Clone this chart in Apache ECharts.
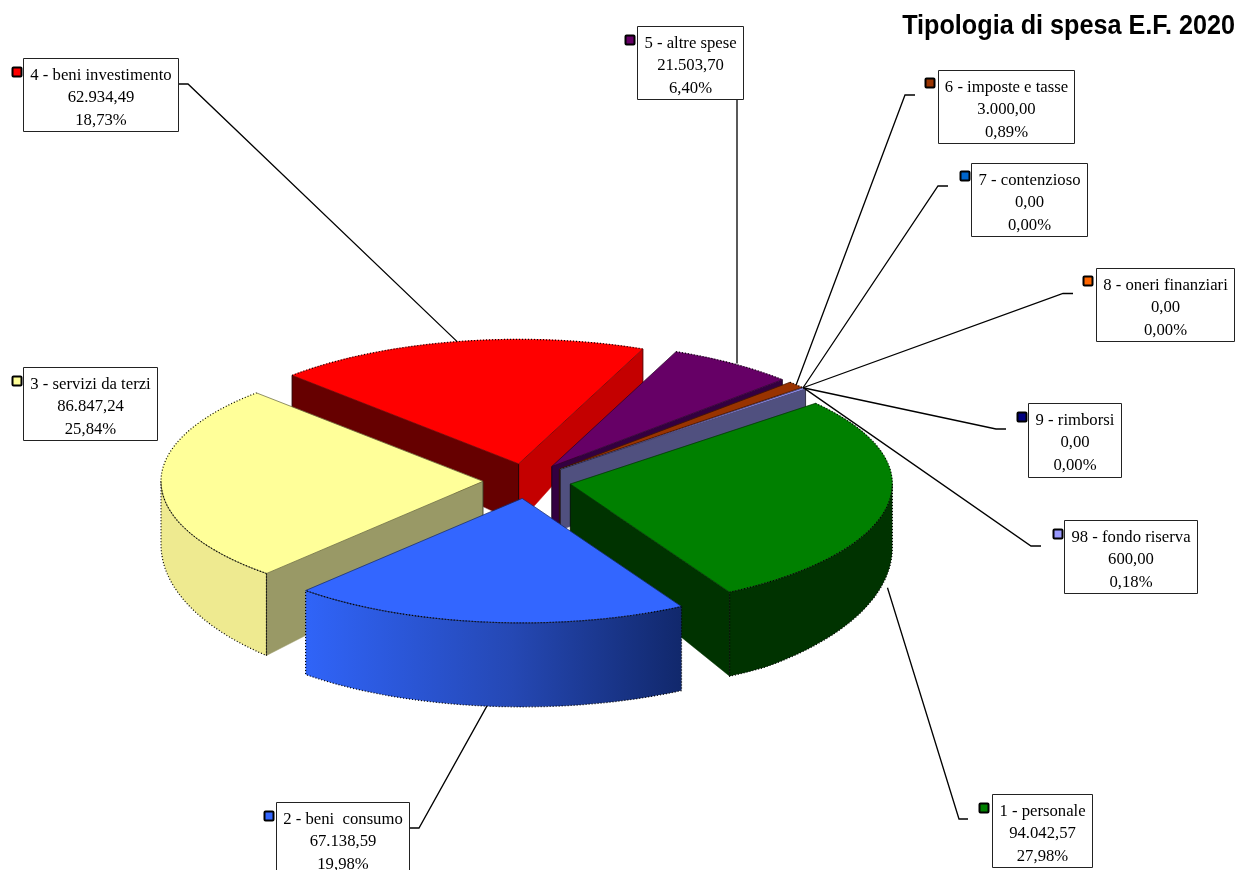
<!DOCTYPE html>
<html>
<head>
<meta charset="utf-8">
<style>html,body{margin:0;padding:0;background:#fff;overflow:hidden}#c{width:1241px;height:870px}</style>
<script src="https://cdn.jsdelivr.net/npm/echarts@6/dist/echarts.min.js"></script>
</head>
<body>
<div id="c"></div>
<script>
const categories = ['1 - personale','2 - beni  consumo','3 - servizi da terzi','4 - beni investimento','5 - altre spese','6 - imposte e tasse','7 - contenzioso','8 - oneri finanziari','9 - rimborsi','98 - fondo riserva'];
const values = [94042.57,67138.59,86847.24,62934.49,21503.70,3000.00,0,0,0,600.00];
const titleText = 'Tipologia di spesa E.F. 2020';

// Slice colours: top, start wall, end wall, outer wall, legend key
const topColors   = ['#008000','#3366ff','#ffff99','#ff0000','#660066','#993300','#0066cc','#ff6600','#000080','#9999ff'];
const startWalls  = ['#003300','#1a3380','#999966','#660000','#330033','#4d1a00','#003366','#803300','#000040','#50507f'];
const endWalls    = ['#003300','#1a3380','#999966','#c40000','#330040','#6b2400','#003366','#803300','#000040','#50507f'];
const outerWalls  = ['#003300',null,'#eeea90','#800000','#330033','#4d1a00','#003366','#803300','#000040','#50507f'];

// Pie geometry (layout only)
const PIE = {cx:527, cy:481, rx:322, ry:124.5, ex:44, ey:17.5, startDeg:49.6};
const depthAt = y => Math.min(84, 36 + (y - 349) * 0.205);

// Label boxes: x,y,w,h, key x,y, leader elbow points, anchor tweak (layout only)
const labelLayouts = [
  {x:992, y:794, w:100, h:73, kx:979, ky:803, elbow:[[968,819],[959,819]], dy:14, front:true},
  {x:276, y:802, w:133, h:73, kx:264, ky:811, elbow:[[409,828],[419,828]], dy:0, front:true},
  {x:23,  y:367, w:134, h:73, kx:12,  ky:376, elbow:null},
  {x:23,  y:58,  w:155, h:73, kx:12,  ky:67,  elbow:[[178,84],[188,84]]},
  {x:637, y:26,  w:106, h:73, kx:625, ky:35,  elbow:[[737,99]], vertical:true},
  {x:938, y:70,  w:136, h:73, kx:925, ky:78,  elbow:[[915,95],[905,95]]},
  {x:971, y:163, w:116, h:73, kx:960, ky:171, elbow:[[948,186],[938,186]]},
  {x:1096,y:268, w:138, h:73, kx:1083,ky:276, elbow:[[1073,293.5],[1063,293.5]]},
  {x:1028,y:403, w:93,  h:74, kx:1017,ky:412, elbow:[[1006,429],[996,429]]},
  {x:1064,y:520, w:133, h:73, kx:1053,ky:529, elbow:[[1041,546],[1031,546]]}
];

const total = values.reduce((a,b)=>a+b,0);
const rad = d => d*Math.PI/180;
const fmt = v => {
  const [i,d] = v.toFixed(2).split('.');
  return i.replace(/\B(?=(\d{3})+(?!\d))/g,'.') + ',' + d;
};

// Angular extent of each slice from the values
const slices = (function(){
  let a = PIE.startDeg; const out = [];
  values.forEach(v => {
    const s = v/total*360;
    const m = rad(a + s/2);
    out.push({a, b:a+s, mid:a+s/2,
      ox: PIE.cx + PIE.ex*Math.sin(m),
      oy: PIE.cy - PIE.ey*Math.cos(m)});
    a += s;
  });
  return out;
})();
const rimPoint = (s,deg) => [s.ox + PIE.rx*Math.sin(rad(deg)), s.oy - PIE.ry*Math.cos(rad(deg))];
const drop = p => [p[0], p[1] + depthAt(p[1])];
const arc = (s,a,b) => {
  const n = Math.max(2, Math.ceil((b-a)/1.5)); const r = [];
  for (let i=0;i<=n;i++) r.push(rimPoint(s,a+(b-a)*i/n));
  return r;
};
const order = slices.map((s,i)=>[s.oy,i]).sort((p,q)=>p[0]-q[0]).map(p=>p[1]);
const EDGE = 'rgba(0,0,0,0.55)';

function renderSlice(params, api){
  const i = params.dataIndex, v = api.value(1);
  if (!v) return {type:'group', children:[]};
  const s = slices[i], base = order.indexOf(i)*10+1, kids = [];
  const O = [s.ox,s.oy];
  const A = rimPoint(s,s.a), B = rimPoint(s,s.b);
  const poly = (pts,fill,z,extra) => kids.push({type:'polygon', z2:base+z, shape:{points:pts},
    style:Object.assign({fill:fill, stroke:fill, lineWidth:0.5}, extra||{})});
  const line = (pts,stroke,z,dash,w) => kids.push({type:'polyline', z2:base+z, shape:{points:pts},
    style:{fill:null, stroke:stroke, lineWidth:w||1, lineDash:dash||null}});
  // radial walls seen from the front
  if (Math.sin(rad(s.a)) < 0) {
    poly([O,A,drop(A),drop(O)],startWalls[i],0);
    line([O,drop(O)],EDGE,1); line([A,drop(A)],EDGE,1);
  }
  if (Math.sin(rad(s.b)) > 0) {
    poly([O,B,drop(B),drop(O)],endWalls[i],0);
    line([O,drop(O)],EDGE,1); line([B,drop(B)],EDGE,1);
  }
  // outer curved wall, front half only
  const wa = Math.max(s.a,90), wb = Math.min(s.b,270);
  if (wb > wa) {
    const upper = arc(s,wa,wb), lower = upper.map(drop);
    let fill = outerWalls[i];
    if (i === 1) {
      const l = upper[upper.length-1][0], r = upper[0][0];
      fill = new echarts.graphic.LinearGradient(l,0,r,0,[
        {offset:0,color:'#3064f8'},{offset:0.55,color:'#2548b4'},{offset:1,color:'#11286c'}],true);
    }
    poly(upper.concat(lower.slice().reverse()),fill,2,{stroke:null,lineWidth:0});
    line([upper[0]].concat([lower[0]]).concat(lower.slice(1)).concat([upper[upper.length-1]]),'#000',3,[1,2],1.2);
    if (i === 2) line([upper[0],lower[0]],EDGE,3);
  }
  // top face
  const rim = arc(s,s.a,s.b);
  poly([O].concat(rim),topColors[i],4);
  line(rim,'#000',5,[1,2],1.2);
  line([A,O,B],EDGE,5,null,0.8);
  if (wb > wa) line(arc(s,wa,wb),EDGE,5,null,0.9);
  return {type:'group', children:kids};
}

function renderLabel(params, api){
  const i = params.dataIndex, L = labelLayouts[i], s = slices[i], kids = [];
  const pct = (api.value(1)/total*100).toFixed(2).replace('.',',')+'%';
  const lines = [categories[i], fmt(api.value(1)), pct];
  if (L.elbow) {
    let end = rimPoint(s,s.mid);
    if (L.front) { end = drop(end); end[1] += L.dy; }
    if (L.vertical) end[0] = L.elbow[0][0];
    kids.push({type:'polyline', z2:1000, shape:{points:L.elbow.concat([end])},
      style:{fill:null, stroke:'#000', lineWidth:1.3}});
  }
  kids.push({type:'rect', z2:1001, shape:{x:L.x+0.5,y:L.y+0.5,width:L.w,height:L.h},
    style:{fill:'#fff', stroke:'#222', lineWidth:1}});
  kids.push({type:'rect', z2:1002, shape:{x:L.kx+0.5,y:L.ky+0.5,width:9,height:9,r:1},
    style:{fill:topColors[i], stroke:'#000', lineWidth:2}});
  lines.forEach((t,j)=>kids.push({type:'text', z2:1003,
    style:{x:L.x+L.w/2+0.5, y:L.y+17.5+j*22.5, text:t, fill:'#000',
      font:'16.7px "Liberation Serif", serif', textAlign:'center', textVerticalAlign:'middle'}}));
  return {type:'group', children:kids};
}

const tableData = categories.map((c,i)=>[c,values[i]]);
const chart = echarts.init(document.getElementById('c'),null,{renderer:'canvas',width:1241,height:870});
chart.setOption({
  animation:false,
  backgroundColor:'#fff',
  tooltip:{show:false},
  series:[
    {type:'custom', name:'Tipologia di spesa', coordinateSystem:'none', silent:true, z:2,
     clip:false, data:tableData, encode:{itemName:0,value:1}, renderItem:renderSlice},
    {type:'custom', name:'Etichette', coordinateSystem:'none', silent:true, z:3,
     clip:false, data:tableData, encode:{itemName:0,value:1}, renderItem:renderLabel}
  ],
  graphic:[{type:'text', x:1235, y:26, scaleX:0.9, z:10, silent:true,
    style:{x:0,y:0,text:titleText, fill:'#000', font:'bold 28px "Liberation Sans", Arial, sans-serif',
      textAlign:'right', textVerticalAlign:'middle'}}]
});
</script>
</body>
</html>
